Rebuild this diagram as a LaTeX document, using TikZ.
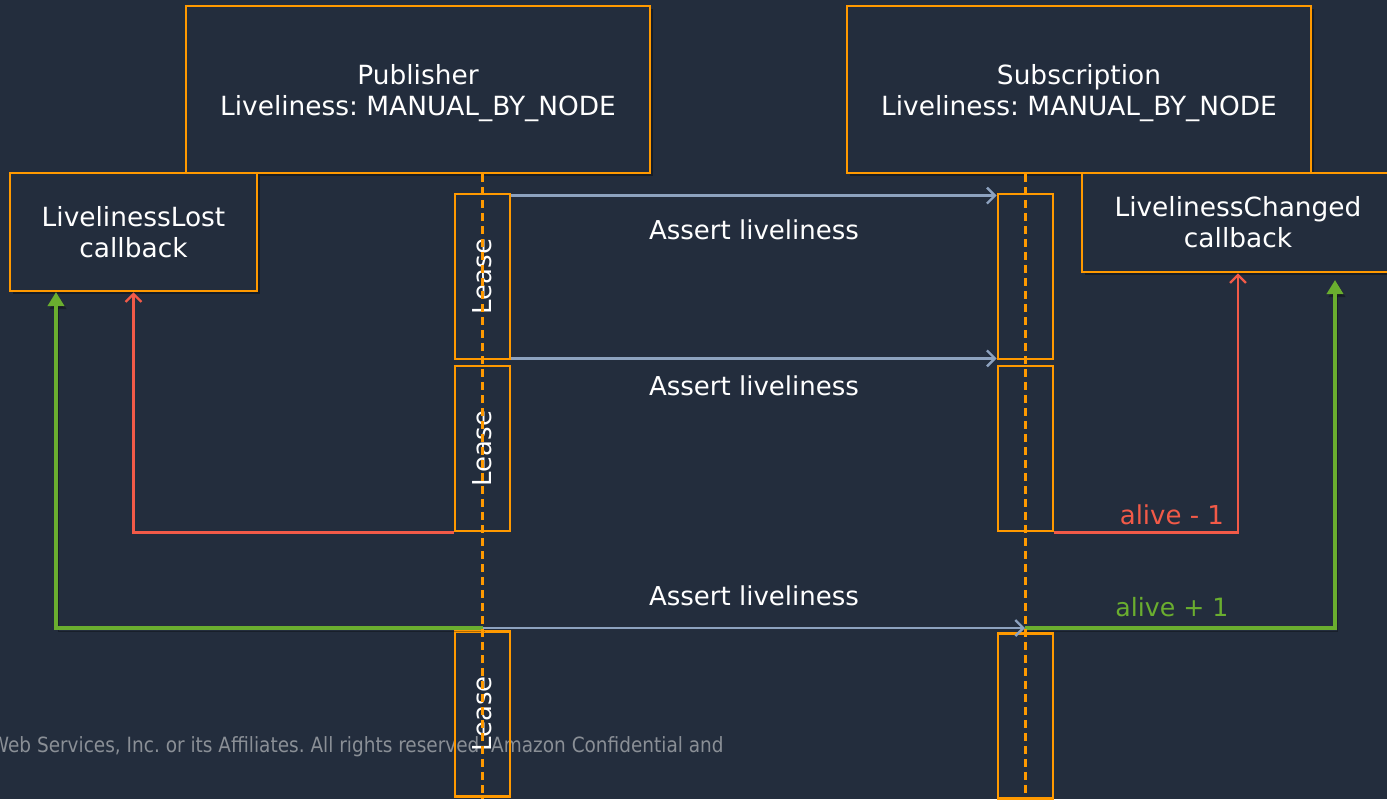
\documentclass[tikz,border=0pt]{standalone}
\usepackage{fontspec}
\setmainfont{DejaVu Sans}
\newfontfamily\footfont[FakeStretch=0.88]{DejaVu Sans}
\usepackage{tikz}
\usetikzlibrary{shadows}
\usetikzlibrary{positioning}
\usetikzlibrary{arrows.meta,calc}
\frenchspacing
\definecolor{squid}{HTML}{232D3D}
\definecolor{awsorange}{HTML}{FF9900}
\definecolor{msgblue}{HTML}{8DA2BF}
\definecolor{lostred}{HTML}{F25A48}
\definecolor{alivegreen}{HTML}{6AAE2F}
\definecolor{footgray}{HTML}{8A8F96}
\tikzstyle{boxshadow}=[drop shadow={shadow xshift=1.5pt,shadow yshift=-1.5pt,fill=black,opacity=0.35}]
\tikzstyle{lineshadow}=[preaction={draw=black,opacity=0.3,transform canvas={xshift=1pt,yshift=-1.5pt}}]
\tikzstyle{actor}=[rectangle,draw=awsorange,fill=squid,line width=1.4pt,minimum width=232pt,minimum height=83.5pt,align=center,text=white,font=\fontsize{13.2}{15.5}\selectfont,boxshadow]
\tikzstyle{actortext}=[align=center,text=white,font=\fontsize{13.2}{15.5}\selectfont]
\tikzstyle{callback}=[actor,inner sep=0pt]
\tikzstyle{leasebox}=[rectangle,draw=awsorange,line width=1.4pt,minimum width=27.5pt,minimum height=82.5pt,inner sep=0pt]
\tikzstyle{leasetext}=[rotate=90,text=white,font=\fontsize{13}{15.5}\selectfont]
\tikzstyle{lifeline}=[awsorange,line width=1.2pt,dash pattern=on 4pt off 2.5pt]
\tikzstyle{assert}=[msgblue,line width=1.2pt,-{Straight Barb[length=4pt,width=8pt]}]
\tikzstyle{msglabel}=[text=white,font=\fontsize{13}{15.5}\selectfont]
\tikzstyle{lostline}=[lostred,line width=1.1pt,-{Straight Barb[length=4pt,width=8pt]}]
\tikzstyle{aliveline}=[alivegreen,line width=2.4pt,-{Triangle[length=7pt,width=8pt]},lineshadow]
\tikzstyle{footer}=[text=footgray,font=\footfont\fontsize{10.5}{12}\selectfont,anchor=east,inner sep=0pt]

\begin{document}
\begin{tikzpicture}[x=0.5pt,y=-0.5pt]

\fill[squid] (0,0) rectangle (1387,799);
\useasboundingbox (0,0) rectangle (1387,799);

%Footer
    \node[footer] (foot) at (724,747) {Web Services, Inc. or its Affiliates. All rights reserved. Amazon Confidential and};

%Actors and callbacks
    \node[actor] (pub) at (418,89.5) {};
    \node[actortext] at ([yshift=-2pt]pub.center) {Publisher\\Liveliness: MANUAL\_BY\_NODE};
    \node[actor] (sub) at (1079,89.5) {};
    \node[actortext] at ([yshift=-2pt]sub.center) {Subscription\\Liveliness: MANUAL\_BY\_NODE};
    \node[callback,minimum width=123.5pt,minimum height=59pt] (lost) at (133.5,232) {LivelinessLost\\callback};
    \node[callback,minimum width=156pt,minimum height=49.5pt] (changed) at (1238,222.5) {LivelinessChanged\\callback};

%Leases
    \foreach \pos/\name in {{(482.5,276.5)/pl1}, {(482.5,448.5)/pl2}, {(482.5,714)/pl3}, {(1025.5,276.5)/sl1}, {(1025.5,448.5)/sl2}, {(1025.5,716)/sl3}}
        \node[leasebox] (\name) at \pos {};
    \foreach \name in {pl1, pl2, pl3}
        \node[leasetext] at (\name) {Lease};

    \coordinate (floor) at (0,799);
    \coordinate (pubHit) at (483,628);
    \coordinate (subHit) at (1025,628);
    \coordinate (lostIn) at (56,292);
    \coordinate (changedIn) at (1335,280);

%Callbacks
    \draw[lostline] (pl2.south west) -| (lost.south);
    \draw[lostline] (sl2.south east) -| node[pos=0.32,yshift=9pt,text=lostred,font=\fontsize{13}{15.5}\selectfont] {alive - 1} (changed.south);
    \draw[aliveline] (pubHit) -| (lostIn);
    \draw[aliveline] (subHit) -| node[pos=0.237,yshift=10.5pt,text=alivegreen,font=\fontsize{12.6}{15}\selectfont] {alive + 1} (changedIn);

%Messages
    \draw[assert] ([yshift=-1.5pt]pl1.north east) -- node[msglabel,yshift=-17pt] {Assert liveliness} ([yshift=-1.5pt]sl1.north west);
    \draw[assert] ([yshift=1pt]pl1.south east) -- node[msglabel,yshift=-13.5pt] {Assert liveliness} ([yshift=1pt]sl1.south west);
    \draw[assert] (pubHit) -- node[msglabel,yshift=16pt] {Assert liveliness} (subHit);

%Lifelines
    \draw[lifeline] (pl1.north |- pub.south) -- (pl3.south |- floor);
    \draw[lifeline] (sl1.north |- sub.south) -- (sl3.south |- floor);

\end{tikzpicture}
\end{document}
